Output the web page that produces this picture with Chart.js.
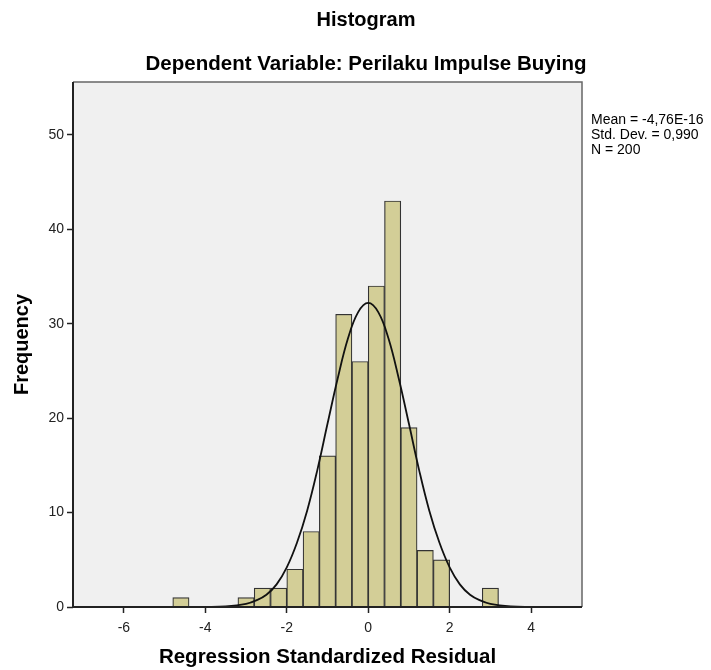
<!DOCTYPE html>
<html lang="id">
<head>
  <meta charset="UTF-8" />
  <title>Histogram</title>
  <script src="https://cdn.jsdelivr.net/npm/chart.js"></script>
  <style>
    html, body { margin: 0; padding: 0; background: #fff; }
    #grafico { display: block; }
  </style>
</head>
<body>
  <canvas id="grafico" width="711" height="670"></canvas>

  <script>
    // Histogram bins (centre of each 0.4-wide bin) and counts
    const binCenters = [-4.6, -3.0, -2.6, -2.2, -1.8, -1.4, -1.0, -0.6, -0.2, 0.2, 0.6, 1.0, 1.4, 1.8, 3.0];
    const binCounts  = [1, 1, 2, 2, 4, 8, 16, 31, 26, 34, 43, 19, 6, 5, 2];

    // normal curve
    const curveX = [-4.5, -4, -3.5, -3, -2.75, -2.5, -2.25, -2, -1.75, -1.5, -1.25, -1, -0.75, -0.5, -0.25, 0,
                    0.25, 0.5, 0.75, 1, 1.25, 1.5, 1.75, 2, 2.25, 2.5, 2.75, 3, 3.5, 4, 4.5];
    const curveY = [0, 0.01, 0.06, 0.33, 0.7, 1.3, 2.4, 4.2, 6.8, 10.2, 14.5, 19.4, 24.2, 28.4, 31.2, 32.2,
                    31.2, 28.4, 24.2, 19.4, 14.5, 10.2, 6.8, 4.2, 2.4, 1.3, 0.7, 0.33, 0.06, 0.01, 0];

    const xTicks = [-6, -4, -2, 0, 2, 4];
    const yTicks = [0, 10, 20, 30, 40, 50];

    const titulo = "Histogram";
    const subtitulo = "Dependent Variable: Perilaku Impulse Buying";
    const estadisticas = ["Mean = -4,76E-16", "Std. Dev. = 0,990", "N = 200"];

    const fuente = "Arial, 'Liberation Sans', sans-serif";

    // fondo gris del área del gráfico y marco
    const marcoPlugin = {
      id: 'marco',
      beforeDatasetsDraw(chart) {
        const { ctx, chartArea: a } = chart;
        ctx.save();
        ctx.fillStyle = '#F0F0F0';
        ctx.fillRect(a.left, a.top, a.right - a.left, a.bottom - a.top);
        ctx.restore();
      },
      afterDraw(chart) {
        const { ctx, chartArea: a } = chart;
        ctx.save();
        ctx.strokeStyle = '#666';
        ctx.lineWidth = 1.5;
        ctx.beginPath();
        ctx.moveTo(a.left, a.top);
        ctx.lineTo(a.right, a.top);
        ctx.lineTo(a.right, a.bottom);
        ctx.stroke();
        ctx.strokeStyle = '#222';
        ctx.lineWidth = 2;
        ctx.beginPath();
        ctx.moveTo(a.left, a.top);
        ctx.lineTo(a.left, a.bottom);
        ctx.lineTo(a.right, a.bottom);
        ctx.stroke();

        // títulos
        ctx.fillStyle = '#000';
        ctx.textAlign = 'center';
        ctx.textBaseline = 'middle';
        ctx.font = 'bold 20px ' + fuente;
        ctx.fillText(titulo, 366, 20);
        ctx.font = 'bold 20.5px ' + fuente;
        ctx.fillText(subtitulo, 366, 64);

        // estadísticas a la derecha
        ctx.textAlign = 'left';
        ctx.font = '14px ' + fuente;
        estadisticas.forEach((t, i) => {
          ctx.fillText(t, a.right + 9, a.top + 38 + i * 15);
        });
        ctx.restore();
      }
    };

    const ctx = document.getElementById('grafico').getContext('2d');
    new Chart(ctx, {
      type: 'bar',
      data: {
        datasets: [
          {
            type: 'line',
            data: curveX.map((x, i) => ({ x: x, y: curveY[i] })),
            borderColor: '#111',
            borderWidth: 1.8,
            pointRadius: 0,
            tension: 0.4,
            fill: false,
            order: 1
          },
          {
            type: 'bar',
            data: binCenters.map((x, i) => ({ x: x, y: binCounts[i] })),
            backgroundColor: '#D3CE97',
            borderColor: '#333',
            borderWidth: 1.2,
            barPercentage: 1.0,
            categoryPercentage: 1.0,
            order: 2
          }
        ]
      },
      options: {
        responsive: false,
        animation: false,
        layout: { padding: { top: 82, right: 129, left: 0, bottom: 0 } },
        plugins: {
          legend: { display: false },
          tooltip: { enabled: false }
        },
        scales: {
          x: {
            type: 'linear',
            offset: false,
            min: -7.25,
            max: 5.25,
            afterFit(scale) { scale.height = 63; },
            afterBuildTicks(scale) { scale.ticks = xTicks.map(v => ({ value: v })); },
            grid: { offset: false, drawOnChartArea: false, tickLength: 6, tickColor: '#222', tickWidth: 1.5 },
            border: { display: false },
            ticks: { color: '#222', font: { family: fuente, size: 14 }, padding: 7, maxRotation: 0 },
            title: {
              display: true,
              text: 'Regression Standardized Residual',
              color: '#000',
              font: { family: fuente, size: 20.5, weight: 'bold' },
              padding: { top: 0, bottom: 0 }
            }
          },
          y: {
            min: 0,
            max: 55.6,
            afterFit(scale) { scale.width = 73; },
            afterBuildTicks(scale) { scale.ticks = yTicks.map(v => ({ value: v })); },
            grid: { drawOnChartArea: false, tickLength: 6, tickColor: '#222', tickWidth: 1.5 },
            border: { display: false },
            ticks: { color: '#222', font: { family: fuente, size: 14 }, padding: 3 },
            title: {
              display: true,
              text: 'Frequency',
              color: '#000',
              font: { family: fuente, size: 20, weight: 'bold' },
              padding: { top: 10, bottom: 0 }
            }
          }
        }
      },
      plugins: [marcoPlugin]
    });
  </script>
</body>
</html>
